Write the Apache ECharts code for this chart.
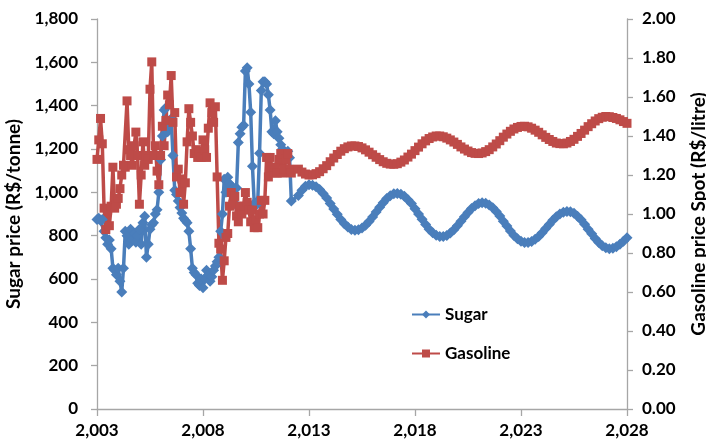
<!DOCTYPE html>
<html>
<head>
<meta charset="utf-8">
<script src="https://cdn.jsdelivr.net/npm/echarts@6/dist/echarts.min.js"></script>
<style>
html,body{margin:0;padding:0;background:#fff;}
#chart{width:706px;height:446px;}
</style>
</head>
<body>
<div id="chart"></div>
<script>
// Historical monthly data, starting January 2003
const histStart = 2003;
const sugarHist = [875,880,870,875,820,790,760,780,740,650,640,620,650,590,540,650,820,800,760,830,
  780,810,770,800,830,760,860,890,700,760,830,850,860,900,920,1000,1150,1260,1380,1390,
  1280,1310,1340,1170,1010,990,960,930,905,880,870,860,820,740,650,630,620,580,570,600,
  560,600,640,620,590,610,640,660,680,700,820,900,1060,1000,1070,1040,1030,1020,950,1020,
  1230,1270,1300,1310,1560,1575,1500,1370,1120,950,940,960,1180,1470,1510,1510,1500,1450,1380,1280,
  1270,1330,1280,1250,1220,1200,1180,1160,1190,1160,960];
const gasolineHist = [1.28,1.38,1.49,1.36,1.03,0.92,1.02,0.94,1.04,1.24,1.03,1.05,1.08,1.13,1.20,1.25,1.24,1.58,1.33,1.30,
  1.25,1.35,1.42,1.30,1.05,1.20,1.37,1.25,1.30,1.28,1.64,1.78,1.30,1.35,1.22,1.15,1.30,1.45,1.35,1.48,
  1.61,1.56,1.71,1.47,1.52,1.19,1.23,1.11,1.18,1.05,1.16,1.37,1.54,1.47,1.40,1.31,1.33,1.29,1.32,1.29,
  1.38,1.33,1.29,1.44,1.57,1.52,1.47,1.55,1.19,0.85,0.82,0.66,0.76,0.88,0.90,1.04,1.11,1.05,1.09,0.99,
  0.96,1.04,1.00,1.04,1.11,1.06,1.02,0.96,1.02,0.93,0.97,0.93,1.00,1.07,1.00,1.07,1.29,1.19,1.29,1.24,
  1.21,1.24,1.21,1.28,1.31,1.21,1.23,1.28,1.31,1.23,1.21];
// Projection, every two months from mid-2012 to 2028
const projStart = 2012.5;
const sugarProj = [985,1010,1028,
  1035,1033,1026,1013,995,974,
  949,923,899,875,855,840,
  829,825,827,835,848,865,
  886,909,931,952,971,984,
  993,995,991,982,966,948,
  924,900,876,852,830,814,
  802,796,796,801,812,827,
  846,867,887,907,925,938,
  948,952,950,942,929,912,
  891,867,845,822,801,786,
  774,768,768,773,783,796,
  814,833,852,871,887,900,
  908,912,910,903,890,873,
  853,830,809,787,768,754,
  744,740,742,749,760,774,
  790];
const gasolineProj = [1.23,1.215,1.205,
  1.200,1.201,1.207,1.217,1.232,1.248,
  1.268,1.287,1.305,1.322,1.335,1.344,
  1.349,1.349,1.346,1.339,1.329,1.317,
  1.304,1.291,1.279,1.268,1.260,1.256,
  1.255,1.258,1.266,1.277,1.292,1.307,
  1.325,1.343,1.360,1.375,1.387,1.395,
  1.400,1.400,1.396,1.389,1.380,1.369,
  1.357,1.344,1.333,1.323,1.315,1.311,
  1.310,1.313,1.320,1.330,1.344,1.359,
  1.376,1.394,1.410,1.424,1.436,1.444,
  1.449,1.450,1.447,1.440,1.430,1.419,
  1.406,1.393,1.382,1.372,1.364,1.361,
  1.360,1.364,1.372,1.383,1.398,1.413,
  1.430,1.448,1.463,1.477,1.489,1.496,
  1.500,1.499,1.495,1.490,1.483,1.474,
  1.465];
const seriesNames = ['Sugar','Gasoline'];
const leftTitle = 'Sugar price (R$/tonne)';
const rightTitle = 'Gasoline price Spot (R$/litre)';

function build(hist, proj) {
  const out = [];
  hist.forEach((v, i) => out.push([histStart + i / 12, v]));
  proj.forEach((v, i) => out.push([projStart + i / 6, v]));
  return out;
}

const FONT = 'Lato, "Open Sans", sans-serif';
const axisLineStyle = { color: '#a6a6a6', width: 1.3 };
const chart = echarts.init(document.getElementById('chart'));
chart.setOption({
  animation: false,
  backgroundColor: '#fff',
  grid: { left: 97, right: 79, top: 19, bottom: 37, containLabel: false, outerBoundsMode: 'none' },
  legend: {
    orient: 'vertical', left: 406, top: 301, itemGap: 22,
    itemWidth: 28, itemHeight: 10,
    textStyle: { fontFamily: FONT, fontSize: 17, fontWeight: 'bold', color: '#000' },
    data: seriesNames
  },
  xAxis: {
    type: 'value', min: 2003, max: 2028, interval: 5,
    splitLine: { show: false },
    axisLine: { lineStyle: axisLineStyle },
    axisTick: { show: true, length: 7, lineStyle: axisLineStyle },
    axisLabel: {
      fontFamily: FONT, fontSize: 17, fontWeight: 'bold', color: '#000', margin: 13,
      formatter: v => Math.round(v).toLocaleString('en-US')
    }
  },
  yAxis: [{
    type: 'value', min: 0, max: 1800, interval: 200, position: 'left',
    name: leftTitle, nameLocation: 'middle', nameGap: 72,
    nameTextStyle: { fontFamily: FONT, fontSize: 19, fontWeight: 'bold', color: '#000' },
    splitLine: { show: false },
    axisLine: { show: true, lineStyle: axisLineStyle },
    axisTick: { show: true, length: 6, lineStyle: axisLineStyle },
    axisLabel: {
      fontFamily: FONT, fontSize: 17, fontWeight: 'bold', color: '#000', margin: 19,
      formatter: v => v.toLocaleString('en-US')
    }
  }, {
    type: 'value', min: 0, max: 2, interval: 0.2, position: 'right',
    name: rightTitle, nameLocation: 'middle', nameGap: 62,
    nameTextStyle: { fontFamily: FONT, fontSize: 19, fontWeight: 'bold', color: '#000' },
    splitLine: { show: false },
    axisLine: { show: true, lineStyle: axisLineStyle },
    axisTick: { show: true, length: 6, lineStyle: axisLineStyle },
    axisLabel: {
      fontFamily: FONT, fontSize: 17, fontWeight: 'bold', color: '#000', margin: 15,
      formatter: v => v.toFixed(2)
    }
  }],
  series: [{
    name: seriesNames[0], type: 'line', yAxisIndex: 0,
    data: build(sugarHist, sugarProj),
    symbol: 'diamond', symbolSize: 11, showAllSymbol: true,
    lineStyle: { color: '#4a7ebb', width: 3.5 },
    itemStyle: { color: '#4a7ebb' }
  }, {
    name: seriesNames[1], type: 'line', yAxisIndex: 1,
    data: build(gasolineHist, gasolineProj),
    symbol: 'rect', symbolSize: 9, showAllSymbol: true,
    lineStyle: { color: '#be4b48', width: 3.5 },
    itemStyle: { color: '#be4b48' }
  }]
});
</script>
</body>
</html>
